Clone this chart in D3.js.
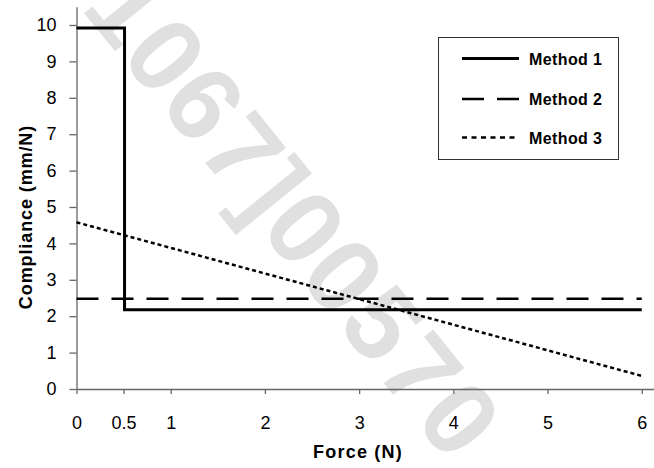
<!DOCTYPE html>
<html>
<head>
<meta charset="utf-8">
<script src="https://cdn.jsdelivr.net/npm/d3@7"></script>
<style>
    body { margin: 0; background: #fff; }
    svg { display: block; font-family: "Liberation Sans", Arial, sans-serif; }
</style>
</head>
<body>
<svg id="chart"></svg>
<script>
// values
const seriesNames = ["Method 1", "Method 2", "Method 3"];
const force1 = [0, 0.51, 0.51, 6];
const compliance1 = [9.92, 9.92, 2.18, 2.18];
const force2 = [0, 6];
const compliance2 = [2.48, 2.48];
const force3 = [0, 6];
const compliance3 = [4.58, 0.36];
const xTicks = [0, 0.5, 1, 2, 3, 4, 5, 6];
const yTicks = [0, 1, 2, 3, 4, 5, 6, 7, 8, 9, 10];
const watermark = "1067]00570";

const width = 654, height = 468;

const svg = d3.select("#chart")
    .attr("width", width)
    .attr("height", height);

// background watermark
svg.append("text")
    .attr("transform", "translate(80,8) rotate(51)")
    .attr("font-size", 105)
    .attr("font-weight", "bold")
    .attr("fill", "#e0e0e0")
    .attr("letter-spacing", 3)
    .text(watermark);

const x = d3.scaleLinear()
    .domain([0, 6.13])
    .range([76.5, 654]);

const y = d3.scaleLinear()
    .domain([0, 10.5])
    .range([389, 6.8]);

// axes
const xAxis = svg.append("g")
    .attr("transform", `translate(0,${y(0)})`)
    .call(d3.axisBottom(x).tickValues(xTicks).tickSize(5).tickSizeOuter(0).tickPadding(22)
        .tickFormat(d => d));

const yAxis = svg.append("g")
    .attr("transform", `translate(${x(0)},0)`)
    .call(d3.axisLeft(y).tickValues(yTicks).tickSize(7).tickSizeOuter(0).tickPadding(13));

[xAxis, yAxis].forEach(g => {
    g.select(".domain").attr("stroke", "#666").attr("stroke-width", 1.3);
    g.selectAll(".tick line").attr("stroke", "#666").attr("stroke-width", 1.3);
    g.selectAll(".tick text")
        .attr("fill", "#000")
        .attr("font-size", 18)
        .attr("font-family", "'Liberation Sans', Arial, sans-serif");
});

// axis titles
svg.append("text")
    .attr("x", 358)
    .attr("y", 458)
    .attr("text-anchor", "middle")
    .attr("font-size", 18)
    .attr("font-weight", "bold")
    .attr("letter-spacing", 1.2)
    .text("Force (N)");

svg.append("text")
    .attr("transform", "translate(31.5,217) rotate(-90)")
    .attr("text-anchor", "middle")
    .attr("font-size", 18)
    .attr("font-weight", "bold")
    .attr("letter-spacing", 0.9)
    .text("Compliance (mm/N)");

// series
const line = d3.line()
    .x(d => x(d[0]))
    .y(d => y(d[1]));

const styles = [
    { width: 3, dash: null },
    { width: 2.5, dash: "22,13" },
    { width: 2.5, dash: "4,3" }
];

const series = [
    d3.zip(force1, compliance1),
    d3.zip(force2, compliance2),
    d3.zip(force3, compliance3)
];

series.forEach((pts, i) => {
    svg.append("path")
        .datum(pts)
        .attr("fill", "none")
        .attr("stroke", "#000")
        .attr("stroke-width", styles[i].width)
        .attr("stroke-dasharray", styles[i].dash)
        .attr("d", line);
});

// legend
const legend = svg.append("g");

legend.append("rect")
    .attr("x", 438.5)
    .attr("y", 37.5)
    .attr("width", 180)
    .attr("height", 122)
    .attr("fill", "#fff")
    .attr("stroke", "#333")
    .attr("stroke-width", 1);

const legendY = [58.5, 99, 137.5];

seriesNames.forEach((name, i) => {
    legend.append("line")
        .attr("x1", 462)
        .attr("x2", 519)
        .attr("y1", legendY[i])
        .attr("y2", legendY[i])
        .attr("stroke", "#000")
        .attr("stroke-width", styles[i].width)
        .attr("stroke-dasharray", i === 1 ? "22,13" : i === 2 ? "5,4.5" : null);

    legend.append("text")
        .attr("x", 529)
        .attr("y", legendY[i] + 6)
        .attr("font-size", 16)
        .attr("font-weight", "bold")
        .attr("letter-spacing", 0.4)
        .text(name);
});
</script>
</body>
</html>
